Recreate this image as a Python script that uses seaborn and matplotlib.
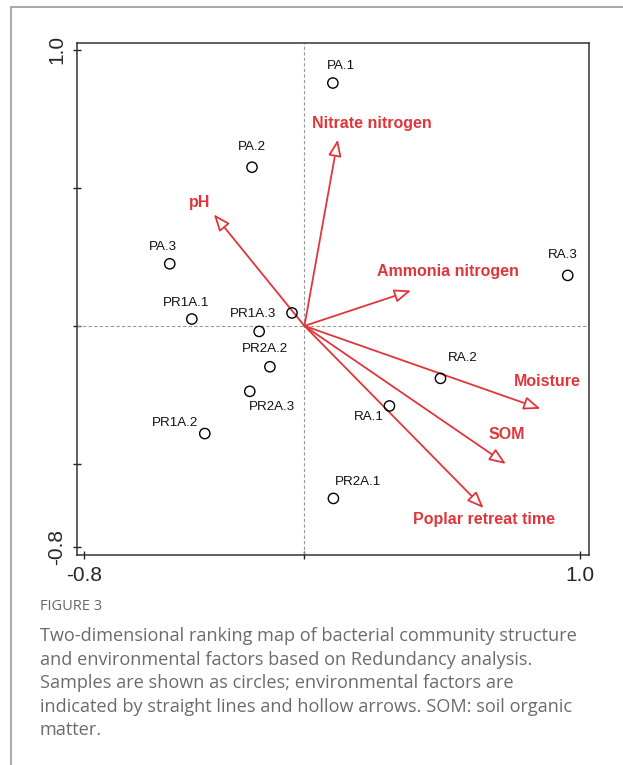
import seaborn as sns
import matplotlib.pyplot as plt
import pandas as pd
import numpy as np
from matplotlib.lines import Line2D

# sample scores (RDA axis 1, axis 2)
sample_names = ["PA.1", "PA.2", "PA.3", "PR1A.1", "", "PR1A.3", "PR2A.2",
                "PR2A.3", "PR1A.2", "RA.3", "RA.2", "RA.1", "PR2A.1"]
sample_x = [0.103, -0.190, -0.488, -0.408, -0.045, -0.164, -0.125,
            -0.198, -0.361, 0.954, 0.493, 0.308, 0.105]
sample_y = [0.880, 0.575, 0.225, 0.025, 0.047, -0.020, -0.148,
            -0.237, -0.390, 0.183, -0.190, -0.290, -0.625]

# environmental factor vectors
env_names = ["Nitrate nitrogen", "pH", "Ammonia nitrogen", "Moisture",
             "SOM", "Poplar retreat time"]
env_x = [0.121, -0.328, 0.386, 0.855, 0.730, 0.649]
env_y = [0.675, 0.404, 0.128, -0.300, -0.500, -0.660]

# label offsets in pixels (placement only)
sample_off = [(8, 17), (0, 20), (-7, 17), (-6, 16), (0, 0), (-6, 17), (-5, 18),
              (22, -16), (-30, 11), (-5, 20), (22, 20), (-21, -11), (25, 16)]
env_off = [(34, 16), (-14, 12), (37, 19), (7, 27), (1, 29), (0, -11)]

df = pd.DataFrame({"RDA1": sample_x, "RDA2": sample_y, "sample": sample_names})

sns.set_style("white")
plt.rcParams['font.family'] = ['Liberation Sans', 'DejaVu Sans']

red = "#e0363b"
fig = plt.figure(figsize=(6.23, 7.65), dpi=100)
ax = fig.add_axes([0.1236, 0.2745, 0.8218, 0.6693])

ax.axhline(0, color="#999999", lw=0.8, ls=(0, (3, 2)), zorder=1)
ax.axvline(0, color="#999999", lw=0.8, ls=(0, (3, 2)), zorder=1)

for name, ex, ey, off in zip(env_names, env_x, env_y, env_off):
    ax.annotate("", xy=(ex, ey), xytext=(0, 0),
                arrowprops=dict(arrowstyle="-|>,head_length=1.0,head_width=0.4",
                                color=red, fc="white", lw=1.3,
                                shrinkA=0, shrinkB=0), zorder=3)
    ax.annotate(name, xy=(ex, ey), xytext=off, textcoords="offset pixels",
                ha="center", va="center", color=red, fontsize=11.5,
                fontweight="bold", zorder=4)

sns.scatterplot(data=df, x="RDA1", y="RDA2", ax=ax, marker="o", s=55,
                facecolor="none", edgecolor="black", linewidth=1, zorder=5)

for name, sx, sy, off in zip(sample_names, sample_x, sample_y, sample_off):
    if name:
        ax.annotate(name, xy=(sx, sy), xytext=off, textcoords="offset pixels",
                    ha="center", va="center", fontsize=9.6, color="#111111")

ax.set_xlim(-0.824, 1.031)
ax.set_ylim(-0.83, 1.025)
ax.set_xticks([-0.8, 0, 1.0])
ax.set_xticklabels(["-0.8", "", "1.0"], fontsize=15)
ax.set_yticks([-0.8, -0.5, 0, 0.5, 1.0])
ax.set_yticklabels(["-0.8", "", "", "", "1.0"], fontsize=15, rotation=90,
                   va="center")
ax.tick_params(direction="inout", length=6, width=1, color="#222222",
               left=True, bottom=True, pad=5)
ax.set_xlabel("")
ax.set_ylabel("")
for s in ax.spines.values():
    s.set_color("#333333")
    s.set_linewidth(1.1)

# page border
fig.add_artist(Line2D([11 / 623, 11 / 623], [0, 1 - 7 / 765], color="#999999", lw=1.2))
fig.add_artist(Line2D([11 / 623, 1], [1 - 7 / 765, 1 - 7 / 765], color="#999999", lw=1.2))

cap_font = ['Open Sans', 'DejaVu Sans']
fig.text(40 / 623, 1 - 607 / 765, "FIGURE 3", fontsize=10.5, color="#666666",
         family=cap_font, va="center")
caption = ["Two-dimensional ranking map of bacterial community structure",
           "and environmental factors based on Redundancy analysis.",
           "Samples are shown as circles; environmental factors are",
           "indicated by straight lines and hollow arrows. SOM: soil organic",
           "matter."]
for i, line in enumerate(caption):
    fig.text(40 / 623, 1 - (636 + 23.6 * i) / 765, line, fontsize=13.05,
             color="#6b6b6b", family=cap_font, va="center")

fig.savefig("out.png", dpi=100)
